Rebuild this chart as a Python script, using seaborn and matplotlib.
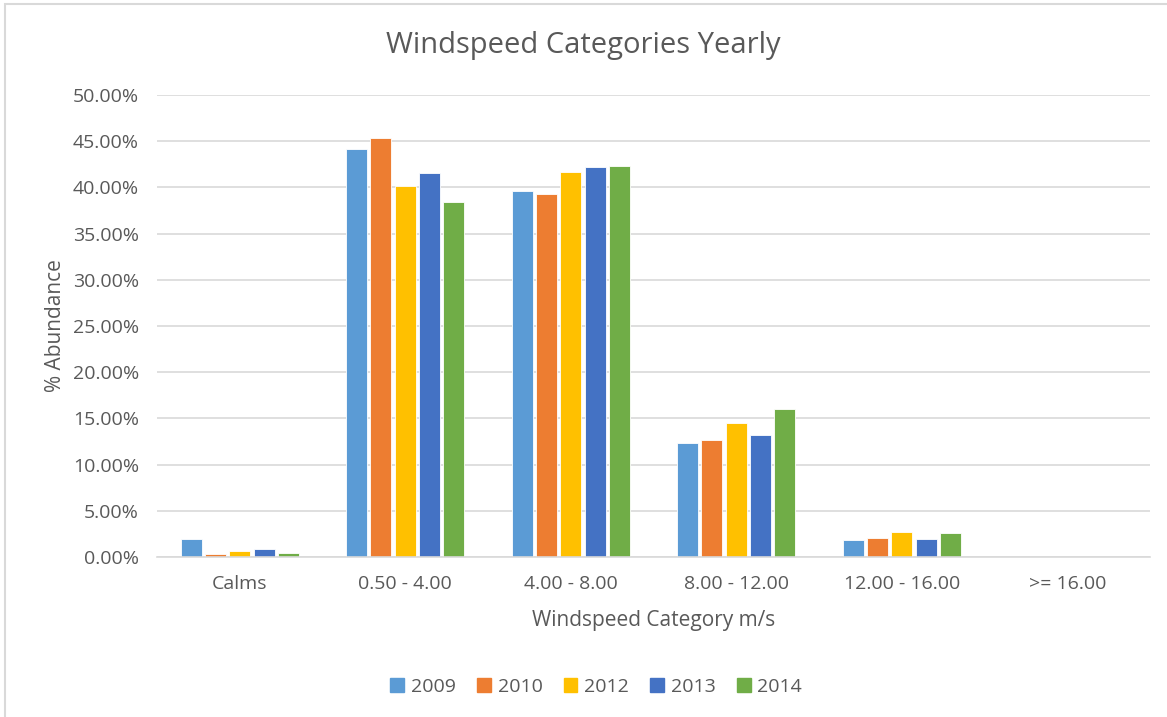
import pandas as pd
import matplotlib
matplotlib.use("Agg")
import matplotlib.pyplot as plt
import matplotlib.patches as mpatches
from matplotlib.ticker import PercentFormatter
import seaborn as sns

# data (percent)
categories = ["Calms", "0.50 - 4.00", "4.00 - 8.00", "8.00 - 12.00", "12.00 - 16.00", ">= 16.00"]
years = ["2009", "2010", "2012", "2013", "2014"]
v2009 = [1.95, 44.2, 39.6, 12.3, 1.8, 0.0]
v2010 = [0.3, 45.4, 39.3, 12.7, 2.05, 0.0]
v2012 = [0.7, 40.2, 41.7, 14.45, 2.7, 0.0]
v2013 = [0.85, 41.6, 42.2, 13.2, 1.9, 0.0]
v2014 = [0.4, 38.45, 42.35, 16.0, 2.55, 0.0]

colors = ["#5B9BD5", "#ED7D31", "#FFC000", "#4472C4", "#70AD47"]

rows = []
for yr, vals in zip(years, [v2009, v2010, v2012, v2013, v2014]):
    for cat, v in zip(categories, vals):
        rows.append({"Category": cat, "Year": yr, "Value": v})
df = pd.DataFrame(rows)

sns.set_style("white")
plt.rcParams["font.family"] = ["Open Sans", "DejaVu Sans"]
text_col = "#595959"

fig = plt.figure(figsize=(11.67, 7.17), dpi=100)
ax = fig.add_axes([157 / 1167, (717 - 557) / 717, (1150 - 157) / 1167, (557 - 95) / 717])

sns.barplot(
    data=df,
    x="Category",
    y="Value",
    hue="Year",
    order=categories,
    hue_order=years,
    palette=colors,
    width=0.735,
    gap=0.14,
    ax=ax,
    legend=False,
    edgecolor="white",
    linewidth=0.6,
    saturation=1,
)

ax.set_ylim(0, 50)
ax.set_yticks([i * 5 for i in range(11)])
ax.yaxis.set_major_formatter(PercentFormatter(decimals=2))
ax.set_xlim(-0.5, len(categories) - 0.5)
ax.grid(axis="y", color="#D9D9D9", linewidth=1.2)
ax.set_axisbelow(True)
for s in ["top", "right", "left"]:
    ax.spines[s].set_visible(False)
ax.spines["bottom"].set_color("#D9D9D9")
ax.spines["bottom"].set_linewidth(1.2)
ax.tick_params(axis="both", length=0, labelsize=14, colors=text_col)
ax.tick_params(axis="x", pad=13)
ax.tick_params(axis="y", pad=13)

ax.set_xlabel("Windspeed Category m/s", fontsize=15, color=text_col, labelpad=12)
ax.set_ylabel("% Abundance", fontsize=15, color=text_col)
ax.yaxis.set_label_coords(-0.092, 0.5)
fig.text(0.5, 1 - 45 / 717, "Windspeed Categories Yearly", ha="center", va="center",
         fontsize=21, color=text_col)

handles = [mpatches.Patch(color=c, label=y) for c, y in zip(colors, years)]
fig.legend(handles=handles, loc="center", bbox_to_anchor=(0.511, 1 - 687 / 717), ncol=5,
           frameon=False, fontsize=14, handlelength=0.7, handleheight=0.7,
           handletextpad=0.35, columnspacing=1.1, labelcolor=text_col)

# outer chart border
fig.patches.append(mpatches.Rectangle((5 / 1167, -0.1), 1.2, 1.1 - 4 / 717,
                                      transform=fig.transFigure, fill=False,
                                      edgecolor="#D9D9D9", linewidth=1.5))

fig.savefig("out.png", dpi=100)
